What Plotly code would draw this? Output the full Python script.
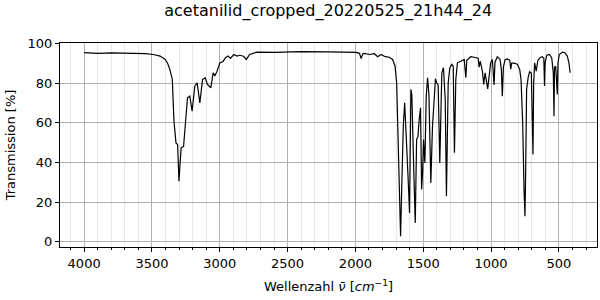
import plotly.graph_objects as go

wavenumber = [
    4000, 3900, 3800, 3700, 3600, 3550, 3490, 3440, 3404, 3385, 3368, 3350, 3338, 3323, 3311,
    3301, 3294, 3285, 3267, 3255, 3238, 3221, 3204, 3184, 3167, 3147, 3127, 3108,
    3091, 3066, 3049, 3037, 3020, 3000, 2976, 2958, 2939, 2921, 2897, 2873, 2853,
    2825, 2804, 2780, 2730, 2600, 2400, 2200, 2000, 1995, 1970, 1958, 1945, 1934, 1897,
    1860, 1836, 1811, 1780, 1750, 1726, 1708, 1696, 1689, 1681, 1674, 1667, 1659,
    1647, 1637, 1627, 1620, 1608, 1601, 1591, 1584, 1574, 1564, 1559, 1549, 1539,
    1530, 1520, 1512, 1505, 1498, 1488, 1478, 1468, 1458, 1444, 1432, 1419, 1410,
    1400, 1390, 1378, 1363, 1351, 1338, 1329, 1316, 1304, 1289, 1279, 1270, 1260,
    1248, 1223, 1198, 1186, 1179, 1162, 1149, 1125, 1095, 1088, 1080, 1064, 1054,
    1044, 1035, 1025, 1015, 1003, 990, 978, 971, 954, 934, 924, 917, 909, 897,
    880, 862, 855, 848, 831, 806, 789, 779, 767, 757, 750, 745, 738, 726, 716,
    703, 696, 691, 686, 679, 667, 655, 638, 623, 611, 606, 601, 589, 570, 553,
    541, 536, 532, 524, 517, 512, 507, 497, 473, 456, 438, 426, 417,
]
transmission = [
    95.3, 95.0, 95.2, 95.0, 95.1, 94.8, 94.4, 93.6, 92.0, 90.0, 86.9, 81.8, 61.0, 49.8, 49.0,
    30.5, 38.0, 47.3, 48.0, 60.0, 72.6, 73.4, 65.8, 78.5, 80.1, 70.0, 81.8, 82.7,
    79.3, 77.6, 85.2, 83.5, 86.0, 90.2, 90.9, 92.8, 93.6, 92.4, 94.4, 93.6, 94.0,
    93.5, 91.9, 94.4, 95.6, 95.5, 95.8, 95.7, 95.6, 95.5, 95.0, 92.3, 94.8, 95.0, 94.4,
    94.8, 93.3, 94.4, 93.3, 93.0, 91.9, 88.6, 80.0, 60.0, 43.0, 7.7, 2.7, 26.0,
    58.2, 70.0, 49.8, 44.8, 26.3, 14.5, 76.8, 74.0, 46.5, 21.2, 9.4, 51.5, 53.0,
    61.6, 67.5, 26.3, 34.7, 51.5, 39.7, 73.4, 82.7, 74.0, 29.6, 58.0, 74.0, 82.2,
    80.0, 79.0, 39.7, 85.2, 87.7, 71.7, 22.9, 80.0, 87.7, 89.4, 88.5, 44.8, 81.8,
    90.2, 91.0, 91.9, 82.7, 91.5, 92.5, 93.3, 93.0, 92.5, 88.0, 91.0, 86.0, 79.3,
    85.2, 80.0, 77.0, 83.0, 90.2, 91.9, 79.0, 90.5, 93.3, 92.0, 86.9, 73.4, 88.0, 91.8,
    92.2, 91.5, 87.0, 90.0, 90.0, 89.5, 86.9, 81.8, 60.0, 26.3, 12.8, 35.0, 76.8, 83.0, 85.7,
    85.0, 68.4, 44.0, 80.0, 90.2, 86.0, 91.5, 92.8, 93.3, 92.5, 78.5, 90.5, 94.0, 94.4, 92.8,
    85.0, 63.3, 88.0, 88.5, 81.0, 74.2, 90.0, 94.4, 95.6, 95.3, 93.6, 90.2, 85.2,
]

x_ticks = [4000, 3500, 3000, 2500, 2000, 1500, 1000, 500]
y_ticks = [0, 20, 40, 60, 80, 100]

fig = go.Figure()
fig.add_trace(go.Scatter(
    x=wavenumber, y=transmission, mode="lines",
    line=dict(color="black", width=1.2), showlegend=False,
))

font = "DejaVu Sans"
fig.update_layout(
    width=600, height=300,
    margin=dict(l=60, r=3, t=43, b=53),
    paper_bgcolor="white", plot_bgcolor="white",
    font=dict(family=font, size=13, color="black"),
    title=dict(text="acetanilid_cropped_20220525_21h44_24", x=0.547, xanchor="center",
               y=0.965, yanchor="middle", font=dict(family=font, size=16, color="black")),
)
fig.update_xaxes(
    range=[4178, 219], tickvals=x_ticks, ticktext=[str(v) for v in x_ticks],
    ticks="outside", ticklen=4, tickcolor="black", tickwidth=1,
    showline=True, linecolor="black", linewidth=1, mirror=True,
    showgrid=True, gridcolor="#b0b0b0", gridwidth=1, zeroline=False,
    minor=dict(dtick=100, tick0=0, ticks="outside", ticklen=2, tickcolor="black",
               showgrid=True, gridcolor="#e8e8e8", gridwidth=1),
    tickfont=dict(size=13),
    title=dict(text="Wellenzahl <i>ν̄</i> [<i>cm</i><sup>−1</sup>]", font=dict(size=13), standoff=12),
)
fig.update_yaxes(
    range=[-2.7, 100.2], tickvals=y_ticks,
    ticks="outside", ticklen=4, tickcolor="black", tickwidth=1,
    showline=True, linecolor="black", linewidth=1, mirror=True,
    showgrid=True, gridcolor="#b0b0b0", gridwidth=1, zeroline=False,
    tickfont=dict(size=13),
    title=dict(text="Transmission [%]", font=dict(size=13), standoff=9),
)

fig.write_html("out.html")
